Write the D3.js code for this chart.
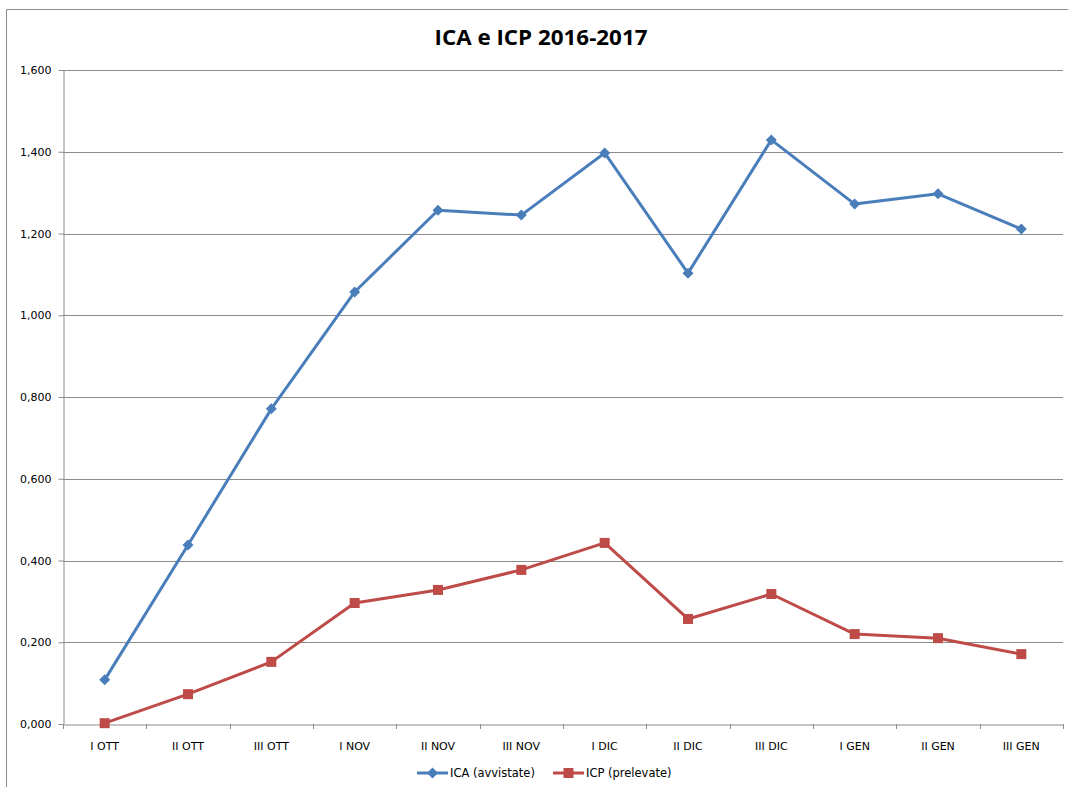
<!DOCTYPE html>
<html><head><meta charset="utf-8">
<script src="https://cdn.jsdelivr.net/npm/d3@7"></script>
<style>body{margin:0;background:#fff}svg{display:block}</style>
</head><body><svg id="c" width="1068" height="787"></svg>
<script>
const categories = ["I OTT","II OTT","III OTT","I NOV","II NOV","III NOV","I DIC","II DIC","III DIC","I GEN","II GEN","III GEN"];
const icaValues = [0.108,0.438,0.771,1.057,1.257,1.245,1.397,1.103,1.429,1.272,1.297,1.211];
const icpValues = [0.002,0.073,0.152,0.296,0.328,0.377,0.443,0.257,0.318,0.220,0.210,0.171];
const yTicks = [0,0.2,0.4,0.6,0.8,1.0,1.2,1.4,1.6];
const seriesNames = ["ICA (avvistate)","ICP (prelevate)"];
const title = "ICA e ICP 2016-2017";

const svg = d3.select("#c");
const m = {left:63, right:1063, top:70, bottom:724};
const x = d3.scaleBand().domain(categories).range([m.left, m.right]);
const y = d3.scaleLinear().domain([0,1.6]).range([m.bottom, m.top]);
const fmt = v => d3.format(",.3f")(v).replace(".", ",");
const labelFont = "'DejaVu Sans', sans-serif";

// outer chart border
svg.append("path").attr("d","M6.5,790 V9.5 H1070").attr("fill","none").attr("stroke","#8c8c8c").attr("stroke-width",1);

// title
svg.append("text").attr("x",541).attr("y",45).attr("text-anchor","middle")
  .attr("font-family","'Open Sans', 'Liberation Sans', sans-serif").attr("font-weight","bold")
  .attr("font-size",22).attr("textLength",213).attr("lengthAdjust","spacingAndGlyphs")
  .attr("fill","#000").text(title);

// gridlines
svg.append("g").selectAll("line").data(yTicks.filter(d=>d>0)).join("line")
  .attr("x1",m.left).attr("x2",m.right)
  .attr("y1",d=>Math.round(y(d))+0.5).attr("y2",d=>Math.round(y(d))+0.5)
  .attr("stroke","#8c8c8c").attr("stroke-width",1);

// y axis
const ya = svg.append("g").attr("transform",`translate(${m.left+0.5},0)`)
  .call(d3.axisLeft(y).tickValues(yTicks).tickFormat(fmt).tickSize(5).tickSizeOuter(0));
ya.select(".domain").attr("stroke","#8c8c8c");
ya.selectAll(".tick line").attr("stroke","#8c8c8c");
ya.selectAll(".tick text").attr("font-family",labelFont).attr("font-size",11).attr("fill","#000").attr("x",-12);

// x axis
const xa = svg.append("g").attr("transform",`translate(0,${m.bottom+0.5})`)
  .call(d3.axisBottom(x).tickSize(0).tickSizeOuter(0));
xa.select(".domain").attr("stroke","#8c8c8c");
xa.selectAll(".tick text").attr("font-family",labelFont).attr("font-size",11).attr("fill","#000").attr("dy",0).attr("y",25);
// category boundary ticks
svg.append("g").selectAll("line").data(categories.map(c=>x(c)).concat([m.right])).join("line")
  .attr("x1",d=>Math.round(d)+0.5).attr("x2",d=>Math.round(d)+0.5)
  .attr("y1",m.bottom).attr("y2",m.bottom+5).attr("stroke","#8c8c8c");

const cx = c => x(c) + x.bandwidth()/2;
const line = d3.line().x((d,i)=>cx(categories[i])).y(d=>y(d));
const colors = ["#4a7ebb","#be4b48"];
const diamond = "M0,-5.5L5.5,0L0,5.5L-5.5,0Z";

// ICA
svg.append("path").datum(icaValues).attr("d",line).attr("fill","none").attr("stroke",colors[0]).attr("stroke-width",3).attr("stroke-linejoin","round");
svg.append("g").selectAll("path").data(icaValues).join("path")
  .attr("d",diamond).attr("transform",(d,i)=>`translate(${cx(categories[i])},${y(d)})`)
  .attr("fill",colors[0]);
// ICP
svg.append("path").datum(icpValues).attr("d",line).attr("fill","none").attr("stroke",colors[1]).attr("stroke-width",3).attr("stroke-linejoin","round");
svg.append("g").selectAll("rect").data(icpValues).join("rect")
  .attr("x",(d,i)=>cx(categories[i])-5).attr("y",d=>y(d)-5).attr("width",10).attr("height",10)
  .attr("fill",colors[1]);

// legend
const leg = [{x:417, name:seriesNames[0], c:colors[0], sym:"d"},{x:553, name:seriesNames[1], c:colors[1], sym:"s"}];
leg.forEach(l=>{
  const g = svg.append("g");
  g.append("line").attr("x1",l.x).attr("x2",l.x+31).attr("y1",773).attr("y2",773).attr("stroke",l.c).attr("stroke-width",3);
  if(l.sym==="d") g.append("path").attr("d",diamond).attr("transform",`translate(${l.x+15.5},773)`).attr("fill",l.c);
  else g.append("rect").attr("x",l.x+10.5).attr("y",768).attr("width",10).attr("height",10).attr("fill",l.c);
  g.append("text").attr("x",l.x+33).attr("y",777).attr("font-family",labelFont).attr("font-size",11.5).attr("fill","#000").text(l.name);
});
</script></body></html>
